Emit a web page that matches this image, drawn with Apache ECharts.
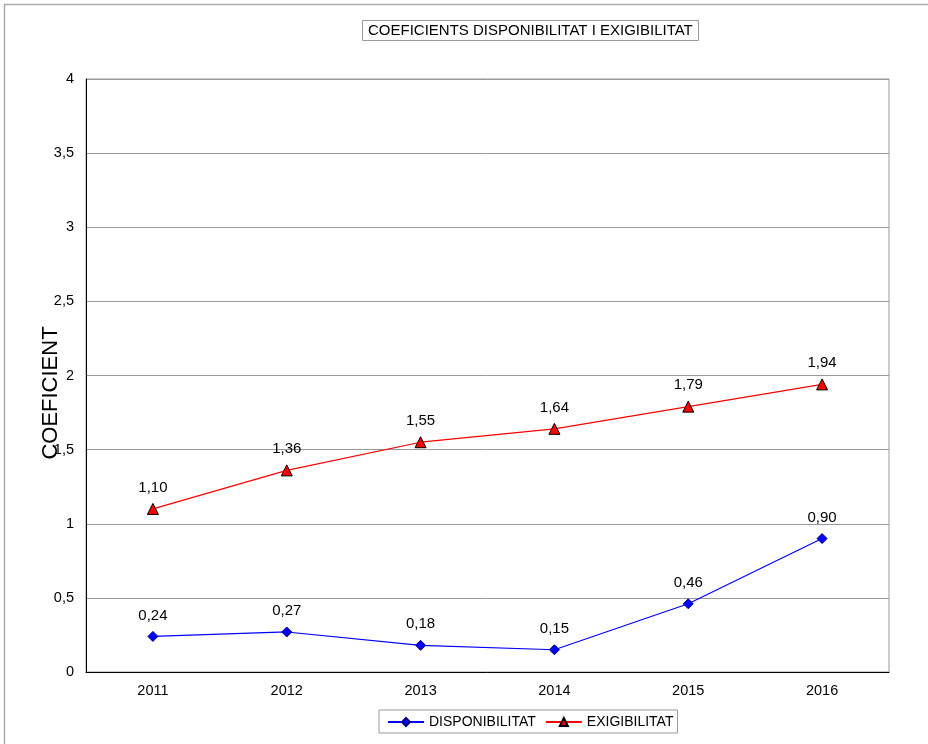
<!DOCTYPE html>
<html><head><meta charset="utf-8">
<script src="https://cdn.jsdelivr.net/npm/echarts@6/dist/echarts.min.js"></script>
<style>html,body{margin:0;padding:0;background:#fff}#c{width:928px;height:744px}</style>
</head><body><div id="c"></div>
<script>
const categories = ['2011','2012','2013','2014','2015','2016'];
const disponibilitat = [0.24, 0.27, 0.18, 0.15, 0.46, 0.90];
const exigibilitat = [1.10, 1.36, 1.55, 1.64, 1.79, 1.94];
const titleText = 'COEFICIENTS DISPONIBILITAT I EXIGIBILITAT';
const yName = 'COEFICIENT';
const F = 'Liberation Sans, Arial, sans-serif';
const fmt = v => v.toFixed(2).replace('.', ',');
const chart = echarts.init(document.getElementById('c'));
chart.setOption({
  animation: false,
  backgroundColor: '#fff',
  title: {
    text: titleText, left: 362, top: 20,
    padding: [3, 6, 3, 6],
    borderColor: '#999', borderWidth: 1,
    textStyle: { fontFamily: F, fontSize: 15, fontWeight: 'normal', color: '#000' }
  },
  legend: {
    top: 710, left: 379,
    borderColor: '#999', borderWidth: 1,
    padding: [5, 4, 4, 8],
    itemWidth: 36, itemHeight: 10, itemGap: 9,
    textStyle: { fontFamily: F, fontSize: 14, color: '#000' },
    data: ['DISPONIBILITAT', 'EXIGIBILITAT']
  },
  graphic: [
    { type: 'rect', shape: { x: 4.5, y: 4.5, width: 1000, height: 1000 }, style: { fill: 'none', stroke: '#aaa', lineWidth: 1.5 }, silent: true },
    { type: 'text', rotation: Math.PI / 2,
      style: { text: yName, fontFamily: F, fontSize: 22, fill: '#000', textAlign: 'center', textVerticalAlign: 'middle' },
      x: 51, y: 393 }
  ],
  grid: { left: 86, right: 39, top: 79, bottom: 72, show: true, borderColor: '#999', borderWidth: 1 },
  xAxis: {
    type: 'category', data: categories, boundaryGap: true,
    axisLine: { lineStyle: { color: '#000', width: 1 } },
    axisTick: { show: false },
    axisLabel: { fontFamily: F, fontSize: 14.5, color: '#000', margin: 11 }
  },
  yAxis: {
    type: 'value', min: 0, max: 4, interval: 0.5,
    axisLine: { show: true, lineStyle: { color: '#000', width: 1 } },
    axisTick: { show: false },
    splitLine: { lineStyle: { color: '#999', width: 1 } },
    axisLabel: { fontFamily: F, fontSize: 14.5, color: '#000', margin: 12, formatter: v => String(v).replace('.', ',') }
  },
  series: [
    {
      name: 'DISPONIBILITAT', type: 'line', data: disponibilitat,
      symbol: 'diamond', symbolSize: 10,
      lineStyle: { color: '#0000ff', width: 1.2 },
      itemStyle: { color: '#0000ff', borderColor: '#000080', borderWidth: 1 },
      label: { show: true, position: 'top', distance: 8, fontFamily: F, fontSize: 15, color: '#000', formatter: p => fmt(p.value) }
    },
    {
      name: 'EXIGIBILITAT', type: 'line', data: exigibilitat,
      symbol: 'triangle', symbolSize: 11,
      lineStyle: { color: '#ff0000', width: 1.2 },
      itemStyle: { color: '#ff0000', borderColor: '#000', borderWidth: 1 },
      label: { show: true, position: 'top', distance: 8, fontFamily: F, fontSize: 15, color: '#000', formatter: p => fmt(p.value) }
    }
  ]
});
</script></body></html>
